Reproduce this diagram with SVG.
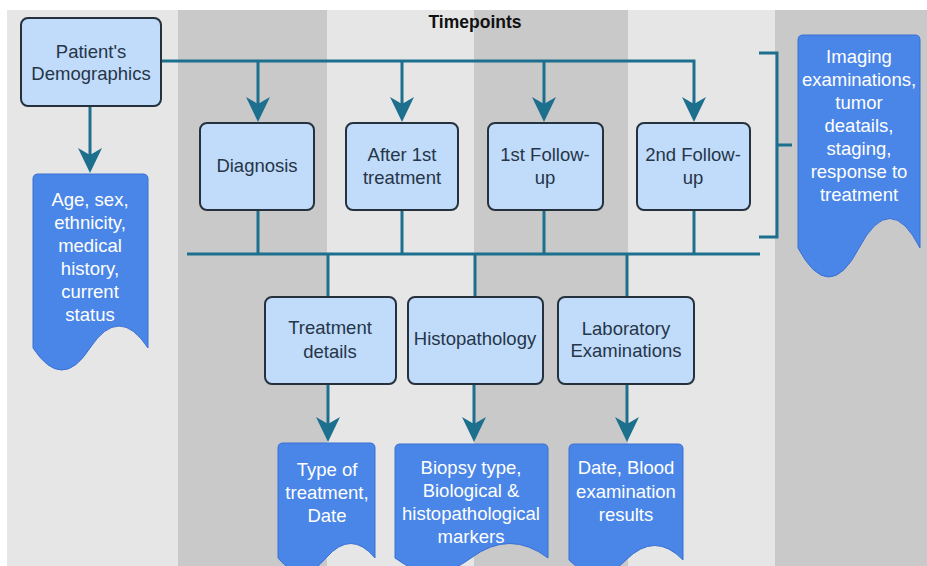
<svg xmlns="http://www.w3.org/2000/svg" width="927" height="566" viewBox="0 0 927 566">
  <style>
    .band-light { fill: #e6e6e6; }
    .band-dark { fill: #c9c9c9; }
    .box { fill: #c0dcfa; stroke: #25313d; stroke-width: 2; }
    .doc { fill: #4a86e8; stroke: #3a6fd2; stroke-width: 1; }
    .t { font-family: "Liberation Sans", Arial, sans-serif; font-size: 18.5px; text-anchor: middle; }
    .dark { fill: #263548; }
    .light { fill: #ffffff; }
    .title { font-family: "Liberation Sans", Arial, sans-serif; font-size: 17.5px; font-weight: bold; text-anchor: middle; fill: #111111; }
    .wire { fill: none; stroke: #1d6f8e; stroke-width: 3; }
  </style>
  <defs>
    <marker id="arrow" viewBox="-20 -13 27 26" refX="0" refY="0" markerWidth="27" markerHeight="26" markerUnits="userSpaceOnUse" orient="auto">
      <path d="M6,0 L-19,-12 L-12,0 L-19,12 Z" fill="#1d6f8e"/>
    </marker>
  </defs>

  <!-- background columns -->
  <rect x="0" y="0" width="927" height="566" fill="#ffffff"/>
  <rect class="band-light" x="7" y="10" width="171" height="556"/>
  <rect class="band-dark" x="178" y="10" width="149" height="556"/>
  <rect class="band-light" x="327" y="10" width="147" height="556"/>
  <rect class="band-dark" x="474" y="10" width="154" height="556"/>
  <rect class="band-light" x="628" y="10" width="147" height="556"/>
  <rect class="band-dark" x="775" y="10" width="152" height="556"/>

  <text class="title" x="475" y="28">Timepoints</text>

  <!-- connectors -->
  <g id="connectors">
    <path class="wire" d="M161,61 H694 V116" marker-end="url(#arrow)"/>
    <path class="wire" d="M258,61 V116" marker-end="url(#arrow)"/>
    <path class="wire" d="M402,61 V116" marker-end="url(#arrow)"/>
    <path class="wire" d="M544,61 V116" marker-end="url(#arrow)"/>
    <path class="wire" d="M90,106 V167" marker-end="url(#arrow)"/>
    <path class="wire" d="M258,210 V254"/>
    <path class="wire" d="M402,210 V254"/>
    <path class="wire" d="M544,210 V254"/>
    <path class="wire" d="M694,210 V254"/>
    <path class="wire" d="M187,254 H760"/>
    <path class="wire" d="M328,254 V297"/>
    <path class="wire" d="M475,254 V297"/>
    <path class="wire" d="M627,254 V297"/>
    <path class="wire" d="M328,384 V436" marker-end="url(#arrow)"/>
    <path class="wire" d="M474,384 V436" marker-end="url(#arrow)"/>
    <path class="wire" d="M627,384 V436" marker-end="url(#arrow)"/>
    <path class="wire" d="M759,53 H777 V237 H759 M777,145 H792"/>
  </g>

  <!-- top row -->
  <g id="demographics">
    <rect class="box" x="21" y="18" width="140" height="88" rx="7"/>
    <text class="t dark" x="91" y="58">Patient's</text>
    <text class="t dark" x="91" y="80">Demographics</text>
  </g>
  <g id="diagnosis">
    <rect class="box" x="200" y="123" width="114" height="87" rx="7"/>
    <text class="t dark" x="257" y="172">Diagnosis</text>
  </g>
  <g id="after-first-treatment">
    <rect class="box" x="346" y="123" width="112" height="87" rx="7"/>
    <text class="t dark" x="402" y="161">After 1st</text>
    <text class="t dark" x="402" y="184">treatment</text>
  </g>
  <g id="first-follow-up">
    <rect class="box" x="488" y="123" width="115" height="87" rx="7"/>
    <text class="t dark" x="545" y="161">1st Follow-</text>
    <text class="t dark" x="545" y="184">up</text>
  </g>
  <g id="second-follow-up">
    <rect class="box" x="637" y="123" width="113" height="87" rx="7"/>
    <text class="t dark" x="693" y="161">2nd Follow-</text>
    <text class="t dark" x="693" y="184">up</text>
  </g>

  <!-- lower row -->
  <g id="treatment-details">
    <rect class="box" x="265" y="297" width="131" height="87" rx="7"/>
    <text class="t dark" x="330" y="334">Treatment</text>
    <text class="t dark" x="330" y="358">details</text>
  </g>
  <g id="histopathology">
    <rect class="box" x="408" y="297" width="135" height="87" rx="7"/>
    <text class="t dark" x="475" y="345">Histopathology</text>
  </g>
  <g id="laboratory">
    <rect class="box" x="558" y="297" width="136" height="87" rx="7"/>
    <text class="t dark" x="626" y="335">Laboratory</text>
    <text class="t dark" x="626" y="357">Examinations</text>
  </g>

  <!-- data documents -->
  <g id="demographics-data">
    <path class="doc" d="M33,348 V179 Q33,174 38,174 H143 Q148,174 148,179 V348 Q119,304 90,348 Q62,392 33,348 Z"/>
    <text class="t light" x="90" y="206">Age, sex,</text>
    <text class="t light" x="90" y="229">ethnicity,</text>
    <text class="t light" x="90" y="252">medical</text>
    <text class="t light" x="90" y="275">history,</text>
    <text class="t light" x="90" y="298">current</text>
    <text class="t light" x="90" y="321">status</text>
  </g>
  <g id="timepoint-data">
    <path class="doc" d="M798,248 V40 Q798,35 803,35 H915 Q920,35 920,40 V248 Q890,189 859,248 Q829,306 798,248 Z"/>
    <text class="t light" x="859" y="63">Imaging</text>
    <text class="t light" x="859" y="86">examinations,</text>
    <text class="t light" x="859" y="109">tumor</text>
    <text class="t light" x="859" y="132">deatails,</text>
    <text class="t light" x="859" y="155">staging,</text>
    <text class="t light" x="859" y="178">response to</text>
    <text class="t light" x="859" y="201">treatment</text>
  </g>
  <g id="treatment-data">
    <path class="doc" d="M278,558 V448 Q278,443 283,443 H370 Q375,443 375,448 V558 Q351,529 326,558 Q302,587 278,558 Z"/>
    <text class="t light" x="327" y="476">Type of</text>
    <text class="t light" x="327" y="499">treatment,</text>
    <text class="t light" x="327" y="522">Date</text>
  </g>
  <g id="histopathology-data">
    <path class="doc" d="M395,558 V449 Q395,444 400,444 H543 Q548,444 548,449 V558 Q510,529 471,558 Q433,587 395,558 Z"/>
    <text class="t light" x="471" y="474">Biopsy type,</text>
    <text class="t light" x="471" y="497">Biological &amp;</text>
    <text class="t light" x="471" y="520">histopathological</text>
    <text class="t light" x="471" y="543">markers</text>
  </g>
  <g id="laboratory-data">
    <path class="doc" d="M569,560 V449 Q569,444 574,444 H678 Q683,444 683,449 V560 Q655,531 626,560 Q598,589 569,560 Z"/>
    <text class="t light" x="626" y="474">Date, Blood</text>
    <text class="t light" x="626" y="498">examination</text>
    <text class="t light" x="626" y="521">results</text>
  </g>
</svg>
